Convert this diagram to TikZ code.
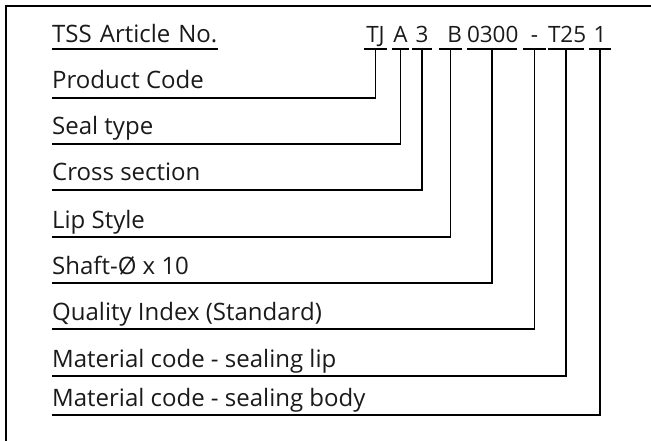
\documentclass[tikz,border=0pt]{standalone}
\usepackage{fontspec}
\setmainfont{Open Sans}
\usetikzlibrary{calc}
\definecolor{ink}{HTML}{1A1A1A}
\begin{document}
\begin{tikzpicture}[x=1pt,y=-1pt,
  lbl/.style={anchor=base west,inner sep=0pt,text=ink,font=\fontsize{24}{28}\selectfont},
  codebox/.style={anchor=base,inner sep=0pt,text depth=6pt,text=ink,align=center,font=\fontsize{22.5}{27}\selectfont},
  conn/.style={line width=1.5pt,black},
  frame/.style={line width=2pt,black}]
\useasboundingbox (0,0) rectangle (651,441);
\draw[frame] (6,445) -- (6,6) -- (655,6);
% header
\node[codebox,text width=166pt,align=left,anchor=base west,font=\fontsize{24}{28}\selectfont] (hdr) at (52,43) {TSS Article No.};
\draw[conn] (hdr.south west) -- (hdr.south east);
% code segments
\node[codebox,text width=23pt] (cTJ) at (375.5,43) {TJ};
\node[codebox,text width=17pt] (cA) at (400.5,43) {A};
\node[codebox,text width=20pt] (c3) at (422,43) {3};
\node[codebox,text width=23pt,align=right] (cB) at (450.5,43) {B};
\node[codebox,text width=50pt] (c0300) at (492,43) {0300};
\node[codebox,text width=23pt] (cDash) at (534.5,43) {-};
\node[codebox,text width=36pt] (cT25) at (566,43) {T25};
\node[codebox,text width=22pt] (c1) at (600,43) {1};
\foreach \c in {cTJ,cA,c3,cB,c0300,cDash,cT25,c1}
  \draw[conn] (\c.south west) -- (\c.south east);
% labels
\node[lbl] (l1) at (52,89) {Product Code};
\node[lbl] (l2) at (52,135) {Seal type};
\node[lbl] (l3) at (52,181) {Cross section};
\node[lbl] (l4) at (52,228) {Lip Style};
\node[lbl] (l5) at (52,274) {Shaft-Ø x 10};
\node[lbl] (l6) at (52,320) {Quality Index (Standard)};
\node[lbl] (l7) at (52,367) {Material code - sealing lip};
\node[lbl] (l8) at (52,406) {Material code - sealing body};
% connectors
\foreach \l/\c in {l1/cTJ,l2/cA,l3/c3,l4/cB,l5/c0300,l6/cDash,l7/cT25,l8/c1}
  \draw[conn] ([yshift=-9pt]\l.base west) -- ([yshift=-9pt]\l.base west -| \c.south) -- (\c.south);
\end{tikzpicture}
\end{document}
